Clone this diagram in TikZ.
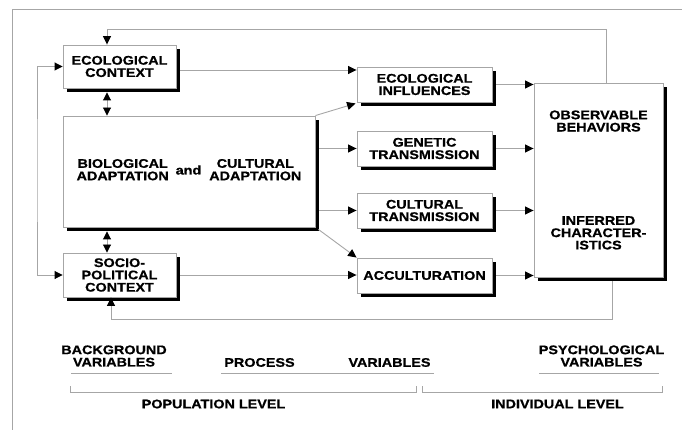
\documentclass[tikz,border=0pt]{standalone}
\usepackage{fontspec}
\setmainfont{Liberation Sans}[FakeStretch=1.15,FakeBold=0.8]
\usetikzlibrary{arrows.meta,shadows,calc}
\begin{document}
\begin{tikzpicture}[x=1pt,y=-1pt,
  font=\fontsize{12.5}{12.3}\selectfont\bfseries,
  box/.style={draw=gray!70, line width=0.9pt, fill=white, align=center, inner sep=0pt,
     drop shadow={shadow xshift=4pt, shadow yshift=-4pt, fill=black, opacity=1}},
  conn/.style={draw=gray!70, line width=0.9pt},
  tip/.style={-{Triangle[length=8.5pt,width=8pt,color=black]}},
  tiptwo/.style={{Triangle[length=8pt,width=8pt,color=black]}-{Triangle[length=8pt,width=8pt,color=black]}},
  lbl/.style={align=center, inner sep=0pt},
  rule/.style={draw=gray!70, line width=0.9pt}
]
\useasboundingbox (0,0) rectangle (682,430);
\fill[white] (0,0) rectangle (682,430);
% outer frame
\draw[rule] (12,430) -- (12,9) -- (682,9);

% boxes
\node[box, minimum width=113pt, minimum height=43pt] (eco) at (119.5,66.5) {ECOLOGICAL\\CONTEXT};
\node[box, minimum width=252pt, minimum height=111pt] (big) at (189,171.5)
  {\begin{tabular}{@{}c@{}}BIOLOGICAL\\ADAPTATION\end{tabular}\hspace{7pt}and\hspace{8pt}\begin{tabular}{@{}c@{}}CULTURAL\\ADAPTATION\end{tabular}};
\node[box, minimum width=113pt, minimum height=44pt] (socio) at (119.5,275) {SOCIO-\\POLITICAL\\CONTEXT};
\node[box, minimum width=135pt, minimum height=35pt] (ecoinf) at (424.5,84.5) {ECOLOGICAL\\INFLUENCES};
\node[box, minimum width=135pt, minimum height=35pt] (gen) at (424.5,148.5) {GENETIC\\TRANSMISSION};
\node[box, minimum width=135pt, minimum height=35pt] (cult) at (424.5,210.5) {CULTURAL\\TRANSMISSION};
\node[box, minimum width=135pt, minimum height=35pt] (acc) at (424.5,275.5) {ACCULTURATION};
\node[box, minimum width=129pt, minimum height=194pt] (obs) at (598.5,180)
  {OBSERVABLE\\BEHAVIORS\\[81pt]INFERRED\\CHARACTER-\\ISTICS};

% coordinates
\coordinate (tr) at (606,29);
\coordinate (tl) at (107,29);
\coordinate (dx) at (107,0);
\coordinate (lx) at (37,170);
\coordinate (bx) at (612,319);
\coordinate (bl) at (111,319);

% connectors
\draw[conn,tip] ($(eco.east)+(4,3.5)$) -- ($(eco.east -| ecoinf.west)+(0,3.5)$);
\draw[conn,tip] (big.north east) -- ($(ecoinf.south west)+(-1,1)$);
\draw[conn,tip] ($(big.east |- gen.west)+(4,0)$) -- (gen.west);
\draw[conn,tip] ($(big.east |- cult.west)+(4,0)$) -- (cult.west);
\draw[conn,tip] ($(big.south east)+(3,2)$) -- (acc.north west);
\draw[conn,tip] ($(socio.east)+(4,0)$) -- (socio.east -| acc.west);
\draw[conn,tip] ($(ecoinf.east)+(4,0)$) -- (ecoinf.east -| obs.west);
\draw[conn,tip] ($(gen.east)+(4,0)$) -- (gen.east -| obs.west);
\draw[conn,tip] ($(cult.east)+(4,0)$) -- (cult.east -| obs.west);
\draw[conn,tip] ($(acc.east)+(4,0)$) -- (acc.east -| obs.west);
\draw[conn,tip] (obs.north -| tr) -- (tr) -- (tl) -- (tl |- eco.north);
\draw[conn,tiptwo] ($(eco.south -| dx)+(0,4)$) -- (big.north -| dx);
\draw[conn,tiptwo] ($(big.south -| dx)+(0,4)$) -- (socio.north -| dx);
\draw[conn,tiptwo] (eco.west) -| (lx) |- (socio.west);
\draw[conn,tip] ($(obs.south -| bx)+(0,4)$) -- (bx) -- (bl) -- (bl |- socio.south);

% bottom labels
\node[lbl] (bg) at (114,356) {BACKGROUND\\VARIABLES};
\node[lbl] (proc) at (259.5,362.5) {PROCESS};
\node[lbl] (pvar) at (389.5,362.5) {VARIABLES};
\node[lbl] (psy) at (601.5,356) {PSYCHOLOGICAL\\VARIABLES};
\draw[rule] (71,373) -- (172,373);
\draw[rule] (221,373) -- (434,373);
\draw[rule] (539,373) -- (659,373);
\draw[rule] (70,386) -- (70,392) -- (416,392) -- (416,386);
\draw[rule] (422,386) -- (422,392) -- (662,392) -- (662,386);
\node[lbl] (pop) at (213.5,404) {POPULATION LEVEL};
\node[lbl] (ind) at (557.5,404) {INDIVIDUAL LEVEL};
\end{tikzpicture}
\end{document}
